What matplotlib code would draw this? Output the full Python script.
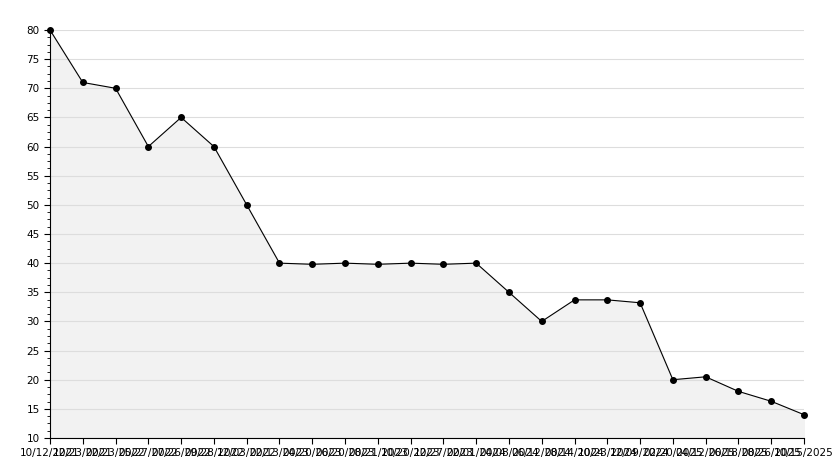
import matplotlib.pyplot as plt
import numpy as np

dates = ['10/12/2021', '12/23/2021', '02/23/2022', '05/27/2022', '07/26/2022', '09/28/2022',
         '12/03/2022', '02/13/2023', '04/20/2023', '06/20/2023', '08/21/2023', '10/20/2023',
         '12/27/2023', '02/01/2024', '04/08/2024', '06/12/2024', '08/14/2024', '10/23/2024',
         '12/09/2024', '02/20/2025', '04/12/2025', '06/18/2025', '08/26/2025', '10/15/2025']
values = [80, 71, 70, 60, 65, 60, 50, 40, 39.8, 40, 39.8, 40, 39.8, 40,
          35, 30, 33.7, 33.7, 33.2, 20, 20.5, 18, 16.3, 14]

x = np.arange(len(values))
fig = plt.figure(figsize=(8.34, 4.68), dpi=100)
ax = fig.add_axes([50/834, 30/468, 754/834, 408/468])
ax.yaxis.grid(True, color='#dddddd', lw=0.8, zorder=0)
ax.fill_between(x, values, 10, color='#f2f2f2', zorder=1)
ax.plot(x, values, color='black', lw=0.8, marker='o', ms=4, markerfacecolor='black',
        clip_on=False, zorder=5)
ax.set_xlim(0, len(values) - 1)
ax.set_ylim(10, 80)
ax.set_yticks(range(10, 81, 5))
ax.set_yticks(np.arange(10, 80, 1.25), minor=True)
ax.set_xticks(x)
ax.set_xticklabels(dates)
ax.tick_params(labelsize=7.5, direction='out', length=4)
ax.tick_params(which='minor', length=2)
for s in ['top', 'right']:
    ax.spines[s].set_visible(False)
fig.savefig('out.png')
